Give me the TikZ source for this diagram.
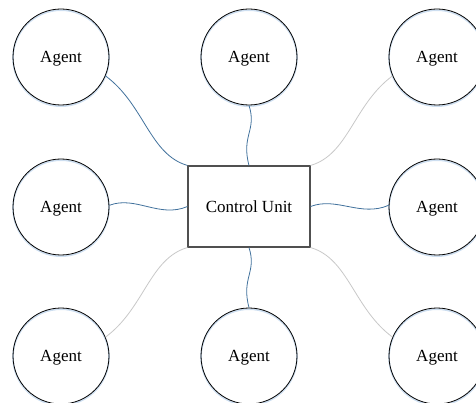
\documentclass[tikz,border=0pt]{standalone}
\usepackage{fontspec}
\setmainfont{Liberation Serif}
\usetikzlibrary{calc}
\definecolor{linkblue}{RGB}{65,113,156}
\definecolor{linkgray}{RGB}{200,200,200}
\definecolor{shadowblue}{RGB}{205,222,240}
\definecolor{boxgray}{RGB}{80,80,80}
\tikzset{
  agent/.style={circle, draw=black, line width=0.8pt, minimum size=96pt, inner sep=0pt, text depth=0pt, font=\fontsize{17}{20}\selectfont},
  unit/.style={rectangle, draw=boxgray, line width=1.1pt, minimum width=122pt, minimum height=81pt, inner sep=0pt, text depth=0pt, font=\fontsize{17}{20}\selectfont},
  bluelink/.style={draw=linkblue, line width=0.8pt},
  graylink/.style={draw=linkgray, line width=0.8pt},
  shadowring/.style={draw=shadowblue, line width=1.6pt}
}
\begin{document}
\begin{tikzpicture}[x=1pt,y=-1pt]
\useasboundingbox (0,0) rectangle (476,403);
\clip (0,0) rectangle (476,403);
% shadows
\foreach \x/\y in {61/57,249/57,437/57,61/207,437/207,61/356,249/356,437/356}
  \draw[shadowring] (\x,\y+1.2) circle (48pt);
% nodes
\node[agent] (a1) at (61,57) {Agent};
\node[agent] (a2) at (249,57) {Agent};
\node[agent] (a3) at (437,57) {Agent};
\node[agent] (a4) at (61,207) {Agent};
\node[agent] (a5) at (437,207) {Agent};
\node[agent] (a6) at (61,356) {Agent};
\node[agent] (a7) at (249,356) {Agent};
\node[agent] (a8) at (437,356) {Agent};
\node[unit] (cu) at (249,206.5) {Control Unit};
% connectors
\draw[bluelink] (a1.-23) .. controls ($(a1.-23)+(39,29)$) and ($(cu.north west)+(-38,-11)$) .. (cu.north west);
\draw[bluelink] (a2.south) .. controls ($(a2.south)+(8,25)$) and ($(cu.north)+(-8,-30)$) .. (cu.north);
\draw[graylink] (a3.-157) .. controls ($(a3.-157)+(-39,29)$) and ($(cu.north east)+(38,-11)$) .. (cu.north east);
\draw[bluelink] (a4.2) .. controls ($(a4.2)+(26,-10)$) and ($(cu.west)+(-28,12)$) .. (cu.west);
\draw[bluelink] (cu.east) .. controls ($(cu.east)+(26,-10)$) and ($(a5.178)+(-28,12)$) .. (a5.178);
\draw[graylink] (a6.23) .. controls ($(a6.23)+(39,-29)$) and ($(cu.south west)+(-38,11)$) .. (cu.south west);
\draw[bluelink] (cu.south) .. controls ($(cu.south)+(8,25)$) and ($(a7.north)+(-8,-30)$) .. (a7.north);
\draw[graylink] (a8.157) .. controls ($(a8.157)+(-39,-29)$) and ($(cu.south east)+(38,11)$) .. (cu.south east);
\end{tikzpicture}
\end{document}
